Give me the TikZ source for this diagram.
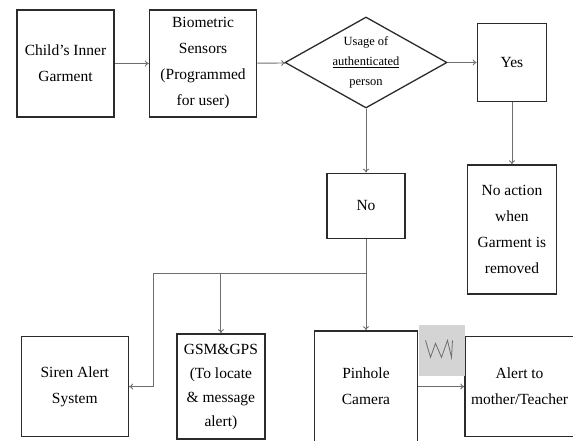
\documentclass[tikz,border=0pt]{standalone}
\usepackage{fontspec}
\setmainfont{Liberation Serif}
\usetikzlibrary{arrows.meta,positioning,shapes.geometric}
\definecolor{Ink}{HTML}{2B2B2B}
\definecolor{Wire}{HTML}{6E6E6E}
\definecolor{Shade}{HTML}{D4D4D4}

\begin{document}
\begin{tikzpicture}[
  x=1pt,y=-1pt,
  font=\fontsize{15.5}{26}\selectfont,
  block/.style={draw=Ink,line width=1.6pt,align=center,inner sep=1pt},
  choice/.style={diamond,aspect=1.78,draw=Ink,line width=1.3pt,align=center,inner sep=0pt,
    minimum width=162pt,minimum height=91pt,font=\fontsize{12.5}{20}\selectfont},
  arrow/.style={-{To[length=4pt,width=6pt]},line width=.9pt,draw=Wire}
]
\useasboundingbox (0,0) rectangle (573,440);
\node[block,minimum width=97pt,minimum height=107pt] (garment) at (65.5,63.5) {Child's Inner\\Garment};
\node[block,minimum width=107pt,minimum height=107pt,right=34pt of garment] (biometric) {Biometric\\Sensors\\(Programmed\\for user)};
\node[choice] (check) at (366,62.5) {Usage of\\\underline{authenticated}\\person};
\node[block,minimum width=69pt,minimum height=78pt,right=29pt of check] (yes) {Yes};
\node[block,minimum width=89pt,minimum height=129pt,below=62pt of yes] (noaction) {No action\\when\\Garment is\\removed};
\node[block,minimum width=78pt,minimum height=65pt,below=64pt of check] (no) {No};
\coordinate[below=34pt of no] (split);
\node[block,minimum width=103pt,minimum height=111pt,below=57pt of split] (pinhole) {Pinhole\\Camera};
\node[block,minimum width=88pt,minimum height=105pt,font=\fontsize{15.5}{24}\selectfont,left=48pt of pinhole] (gsm) {GSM\&GPS\\(To locate\\\& message\\alert)};
\node[block,minimum width=107pt,minimum height=100pt,left=47pt of gsm] (siren) {Siren Alert\\System};
\node[block,minimum width=109pt,minimum height=100pt,right=46pt of pinhole] (alert) {Alert to\\mother/Teacher};
\node[fill=Shade,minimum width=46pt,minimum height=51pt,inner sep=0pt,anchor=south west] (signal) at ([yshift=10.5pt]pinhole.east) {};
\draw[Wire,line width=.8pt] ([shift={(-16,-10)}]signal.center) -- ++(5,17) -- ++(5,-14) -- ++(6,14) -- ++(6,-17) -- ++(4,17) -- ++(1,-17);
\coordinate (bend) at ([xshift=24pt]siren.east |- split);
\draw[arrow] (garment) -- (biometric);
\draw[arrow] (biometric) -- (check);
\draw[arrow] (check) -- (yes);
\draw[arrow] (yes) -- (noaction);
\draw[arrow] (check) -- (no);
\draw[line width=.9pt,draw=Wire] (no) -- (split);
\draw[arrow] (split) -- (pinhole);
\draw[arrow] (split) -| (gsm);
\draw[arrow] (split) -- (bend) |- (siren);
\draw[arrow] (pinhole) -- (alert);
\end{tikzpicture}
\end{document}
